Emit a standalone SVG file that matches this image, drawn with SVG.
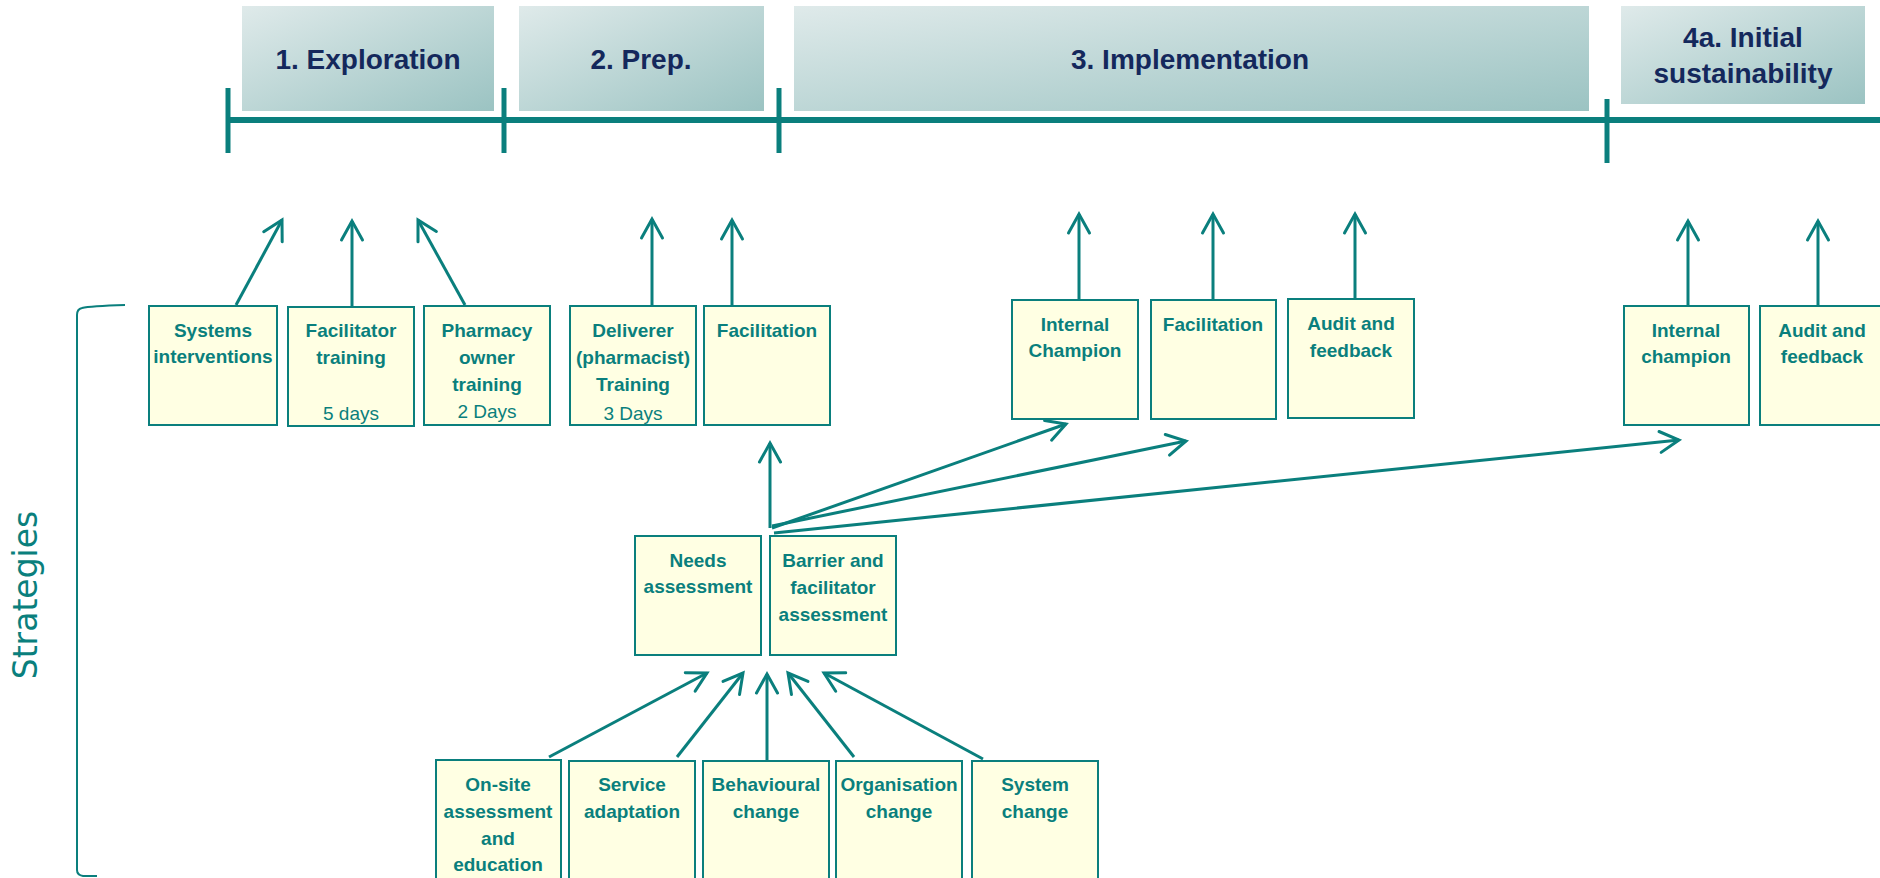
<svg xmlns="http://www.w3.org/2000/svg" width="1880" height="878" viewBox="0 0 1880 878">
<style>
.hdr{stroke:none}
.ht{font-family:"Liberation Sans",Arial,sans-serif;font-weight:bold;font-size:28px;fill:#14285c;text-anchor:middle}
.box{fill:#ffffe3;stroke:#0a7f7d;stroke-width:2}
.bt{font-family:"Liberation Sans",Arial,sans-serif;font-weight:bold;font-size:19px;fill:#0a7f7d;text-anchor:middle}
.rt{font-family:"Liberation Sans",Arial,sans-serif;font-size:19px;fill:#0a7f7d;text-anchor:middle}
.tl{stroke:#0a7f7d;stroke-width:6;fill:none}
.tick{stroke:#0a7f7d;stroke-width:5;fill:none}
.con{stroke:#0a7f7d;stroke-width:3;fill:none;marker-end:url(#ah)}
</style>
<defs>
<linearGradient id="hg" x1="0" y1="0" x2="1" y2="1">
<stop offset="0" stop-color="#dfeaea"/>
<stop offset="1" stop-color="#9bc3c2"/>
</linearGradient>
<marker id="ah" markerUnits="userSpaceOnUse" markerWidth="30" markerHeight="30" viewBox="-25 -15 30 30" refX="0" refY="0" orient="auto">
<path d="M-19,-10.5 L0,0 L-19,10.5" fill="none" stroke="#0a7f7d" stroke-width="3" stroke-linecap="round" stroke-linejoin="miter"/>
</marker>
</defs>
<rect width="1880" height="878" fill="#ffffff"/>

<g id="phases">
<g id="phase1"><rect class="hdr" x="242" y="6" width="252" height="105" fill="url(#hg)"/><text class="ht" x="368" y="69">1. Exploration</text></g>
<g id="phase2"><rect class="hdr" x="519" y="6" width="245" height="105" fill="url(#hg)"/><text class="ht" x="641" y="69">2. Prep.</text></g>
<g id="phase3"><rect class="hdr" x="794" y="6" width="795" height="105" fill="url(#hg)"/><text class="ht" x="1190" y="69">3. Implementation</text></g>
<g id="phase4a"><rect class="hdr" x="1621" y="6" width="244" height="98" fill="url(#hg)"/><text class="ht" x="1743" y="47">4a. Initial</text><text class="ht" x="1743" y="83">sustainability</text></g>
</g>

<g id="timeline">
<line class="tl" x1="228" y1="120" x2="1880" y2="120"/>
<line class="tick" x1="228" y1="88" x2="228" y2="153"/>
<line class="tick" x1="504" y1="88" x2="504" y2="153"/>
<line class="tick" x1="779" y1="88" x2="779" y2="153"/>
<line class="tick" x1="1607" y1="99" x2="1607" y2="163"/>
</g>

<g id="strategies-label">
<path d="M125,305 Q90,306 82,308 Q77,309 77,315 L77,870 Q77,875 83,876 L97,876" fill="none" stroke="#0a7f7d" stroke-width="2"/>
<text x="0" y="0" transform="translate(37,595) rotate(-90)" font-family="DejaVu Sans,Verdana,sans-serif" font-size="33" fill="#0a7f7d" text-anchor="middle">Strategies</text>
</g>

<g id="n-systems"><rect class="box" x="149" y="306" width="128" height="119"/><text class="bt" x="213" y="337">Systems</text><text class="bt" x="213" y="363">interventions</text></g>
<g id="n-factrain"><rect class="box" x="288" y="307" width="126" height="119"/><text class="bt" x="351" y="337">Facilitator</text><text class="bt" x="351" y="364">training</text><text class="rt" x="351" y="420">5 days</text></g>
<g id="n-pharmacy"><rect class="box" x="424" y="306" width="126" height="119"/><text class="bt" x="487" y="337">Pharmacy</text><text class="bt" x="487" y="364">owner</text><text class="bt" x="487" y="391">training</text><text class="rt" x="487" y="418">2 Days</text></g>
<g id="n-deliverer"><rect class="box" x="570" y="306" width="126" height="119"/><text class="bt" x="633" y="337">Deliverer</text><text class="bt" x="633" y="364">(pharmacist)</text><text class="bt" x="633" y="391">Training</text><text class="rt" x="633" y="420">3 Days</text></g>
<g id="n-facil1"><rect class="box" x="704" y="306" width="126" height="119"/><text class="bt" x="767" y="337">Facilitation</text></g>

<g id="n-intchamp"><rect class="box" x="1012" y="300" width="126" height="119"/><text class="bt" x="1075" y="331">Internal</text><text class="bt" x="1075" y="357">Champion</text></g>
<g id="n-facil2"><rect class="box" x="1151" y="300" width="125" height="119"/><text class="bt" x="1213" y="331">Facilitation</text></g>
<g id="n-audit1"><rect class="box" x="1288" y="299" width="126" height="119"/><text class="bt" x="1351" y="330">Audit and</text><text class="bt" x="1351" y="357">feedback</text></g>
<g id="n-intchamp2"><rect class="box" x="1624" y="306" width="125" height="119"/><text class="bt" x="1686" y="337">Internal</text><text class="bt" x="1686" y="363">champion</text></g>
<g id="n-audit2"><rect class="box" x="1760" y="306" width="126" height="119"/><text class="bt" x="1822" y="337">Audit and</text><text class="bt" x="1822" y="363">feedback</text></g>

<g id="n-needs"><rect class="box" x="635" y="536" width="126" height="119"/><text class="bt" x="698" y="567">Needs</text><text class="bt" x="698" y="593">assessment</text></g>
<g id="n-barrier"><rect class="box" x="770" y="536" width="126" height="119"/><text class="bt" x="833" y="567">Barrier and</text><text class="bt" x="833" y="594">facilitator</text><text class="bt" x="833" y="621">assessment</text></g>

<g id="n-onsite"><rect class="box" x="436" y="760" width="125" height="125"/><text class="bt" x="498" y="791">On-site</text><text class="bt" x="498" y="818">assessment</text><text class="bt" x="498" y="845">and</text><text class="bt" x="498" y="871">education</text></g>
<g id="n-service"><rect class="box" x="569" y="761" width="126" height="125"/><text class="bt" x="632" y="791">Service</text><text class="bt" x="632" y="818">adaptation</text></g>
<g id="n-behav"><rect class="box" x="703" y="761" width="126" height="125"/><text class="bt" x="766" y="791">Behavioural</text><text class="bt" x="766" y="818">change</text></g>
<g id="n-org"><rect class="box" x="836" y="761" width="126" height="125"/><text class="bt" x="899" y="791">Organisation</text><text class="bt" x="899" y="818">change</text></g>
<g id="n-system"><rect class="box" x="972" y="761" width="126" height="125"/><text class="bt" x="1035" y="791">System</text><text class="bt" x="1035" y="818">change</text></g>

<g id="connectors">
<line class="con" x1="236" y1="305" x2="282" y2="220"/>
<line class="con" x1="352" y1="306" x2="352" y2="221"/>
<line class="con" x1="465" y1="305" x2="418" y2="220"/>
<line class="con" x1="652" y1="305" x2="652" y2="219"/>
<line class="con" x1="732" y1="305" x2="732" y2="220"/>
<line class="con" x1="1079" y1="299" x2="1079" y2="214"/>
<line class="con" x1="1213" y1="299" x2="1213" y2="214"/>
<line class="con" x1="1355" y1="298" x2="1355" y2="214"/>
<line class="con" x1="1688" y1="305" x2="1688" y2="221"/>
<line class="con" x1="1818" y1="305" x2="1818" y2="221"/>
<line class="con" x1="770" y1="528" x2="770" y2="443"/>
<line class="con" x1="772" y1="528" x2="1066" y2="424"/>
<line class="con" x1="772" y1="526" x2="1186" y2="441"/>
<line class="con" x1="774" y1="533" x2="1679" y2="440"/>
<line class="con" x1="549" y1="757" x2="707" y2="673"/>
<line class="con" x1="677" y1="757" x2="743" y2="673"/>
<line class="con" x1="767" y1="760" x2="767" y2="674"/>
<line class="con" x1="854" y1="757" x2="788" y2="673"/>
<line class="con" x1="983" y1="759" x2="824" y2="673"/>
</g>
</svg>
